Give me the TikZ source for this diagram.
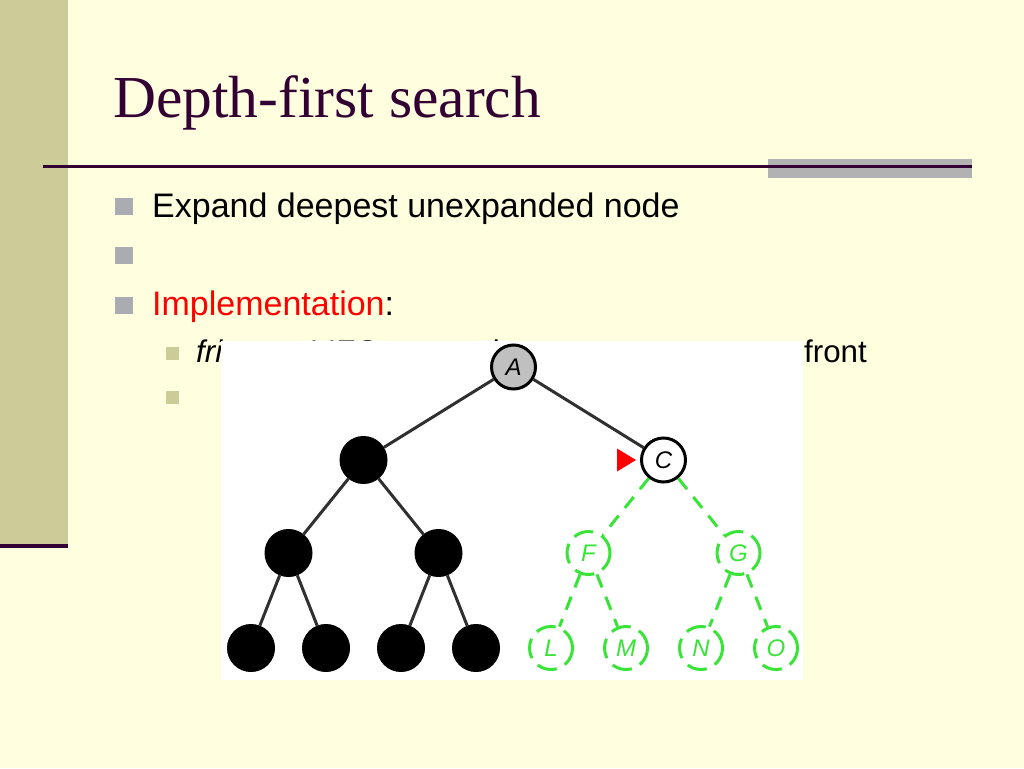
\documentclass[tikz,border=0pt]{standalone}
\usepackage{fontspec}
\setmainfont{Liberation Serif}
\setsansfont{Liberation Sans}
\usetikzlibrary{calc}
\definecolor{slidebg}{HTML}{FFFFE0}
\definecolor{bandcol}{HTML}{CCCC99}
\definecolor{titlecol}{HTML}{330033}
\definecolor{barcol}{HTML}{B2B2B2}
\definecolor{bulletcol}{HTML}{ABABB2}
\definecolor{newcol}{HTML}{38E438}
\definecolor{edgecol}{HTML}{303030}
\definecolor{seencol}{HTML}{C0C0C0}

\begin{document}
\begin{tikzpicture}[x=1pt,y=-1pt,
    expnode/.style={circle,fill=black,draw=black,line width=1pt,minimum size=47pt,inner sep=0pt},
    seennode/.style={circle,fill=seencol,draw=black,line width=3pt,minimum size=44pt,inner sep=0pt,
        font=\sffamily\itshape\fontsize{24}{24}\selectfont},
    curnode/.style={seennode,fill=white},
    newnode/.style={circle,draw=newcol,text=newcol,line width=3pt,dash pattern=on 20pt off 9pt,
        minimum size=43pt,inner sep=0pt,font=\sffamily\itshape\fontsize{24}{24}\selectfont},
    treeedge/.style={draw=edgecol,line width=3pt},
    newedge/.style={draw=newcol,line width=3pt,dash pattern=on 14pt off 10pt},
    lvlone/.style={anchor=base west,inner sep=0pt,font=\sffamily\fontsize{34}{40}\selectfont},
    lvltwo/.style={anchor=base west,inner sep=0pt,font=\sffamily\fontsize{31.3}{36}\selectfont}]
    %% define points
    \def\Yi{367};
    \def\Yii{460};
    \def\Yiii{553};
    \def\Yiv{648};

    %% slide background
    \useasboundingbox (0,0) rectangle (1024,768);
    \fill[slidebg] (0,0) rectangle (1024,768);
    \fill[bandcol] (0,0) rectangle (68,546);
    \fill[titlecol] (0,544) rectangle (68,548);
    \fill[barcol] (768,159) rectangle (972,178);
    \draw[titlecol, line width=2.5pt] (43,166.5) -- (972,166.5);

    %% title
    \node[anchor=base west, inner sep=0pt, text=titlecol, font=\fontsize{59.5}{72}\selectfont] (title) at (113,117) {Depth-first search};

    %% bullets
    \foreach \y in {198,247,297}
        \fill[bulletcol] (115,\y) rectangle +(18,17);
    \foreach \y in {347,391}
        \fill[bandcol] (166,\y) rectangle +(13,13);

    \node[lvlone] (expand) at (152,217) {Expand deepest unexpanded node};
    \node[lvlone] (impl) at (152,315) {\textcolor{red}{Implementation}:};
    \node[lvltwo] (fringe) at (196,362) {\textit{fringe} = LIFO queue, i.e., put successors at front};

    %% picture of the tree
    \fill[white] (221,341) rectangle (803,680);

    \node[seennode] (A) at (513.5,\Yi) {A};
    \node[expnode] (B) at (363.5,\Yii) {};
    \node[curnode] (C) at (663.5,\Yii) {C};
    \node[expnode] (D) at (288.5,\Yiii) {};
    \node[expnode] (E) at (438.5,\Yiii) {};
    \node[newnode] (F) at (588.5,\Yiii) {F};
    \node[newnode] (G) at (738.5,\Yiii) {G};
    \foreach \n/\x in {H/251,I/326,J/401,K/476}
        \node[expnode] (\n) at (\x,\Yiv) {};
    \foreach \n/\x in {L/551,M/626,N/701,O/776}
        \node[newnode] (\n) at (\x,\Yiv) {\n};

    %% edges
    \draw[treeedge] (A) -- (B);
    \draw[treeedge] (A) -- (C);
    \draw[treeedge] (B) -- (D);
    \draw[treeedge] (B) -- (E);
    \draw[treeedge] (D) -- (H);
    \draw[treeedge] (D) -- (I);
    \draw[treeedge] (E) -- (J);
    \draw[treeedge] (E) -- (K);

    \draw[newedge] (C) -- (F);
    \draw[newedge] (C) -- (G);
    \draw[newedge] (F) -- (L);
    \draw[newedge] (F) -- (M);
    \draw[newedge] (G) -- (N);
    \draw[newedge] (G) -- (O);

    %% marker at the current node
    \fill[red] ([xshift=-4pt]C.west) -- ++(-19,-11.5) -- ++(0,23) -- cycle;
\end{tikzpicture}
\end{document}
